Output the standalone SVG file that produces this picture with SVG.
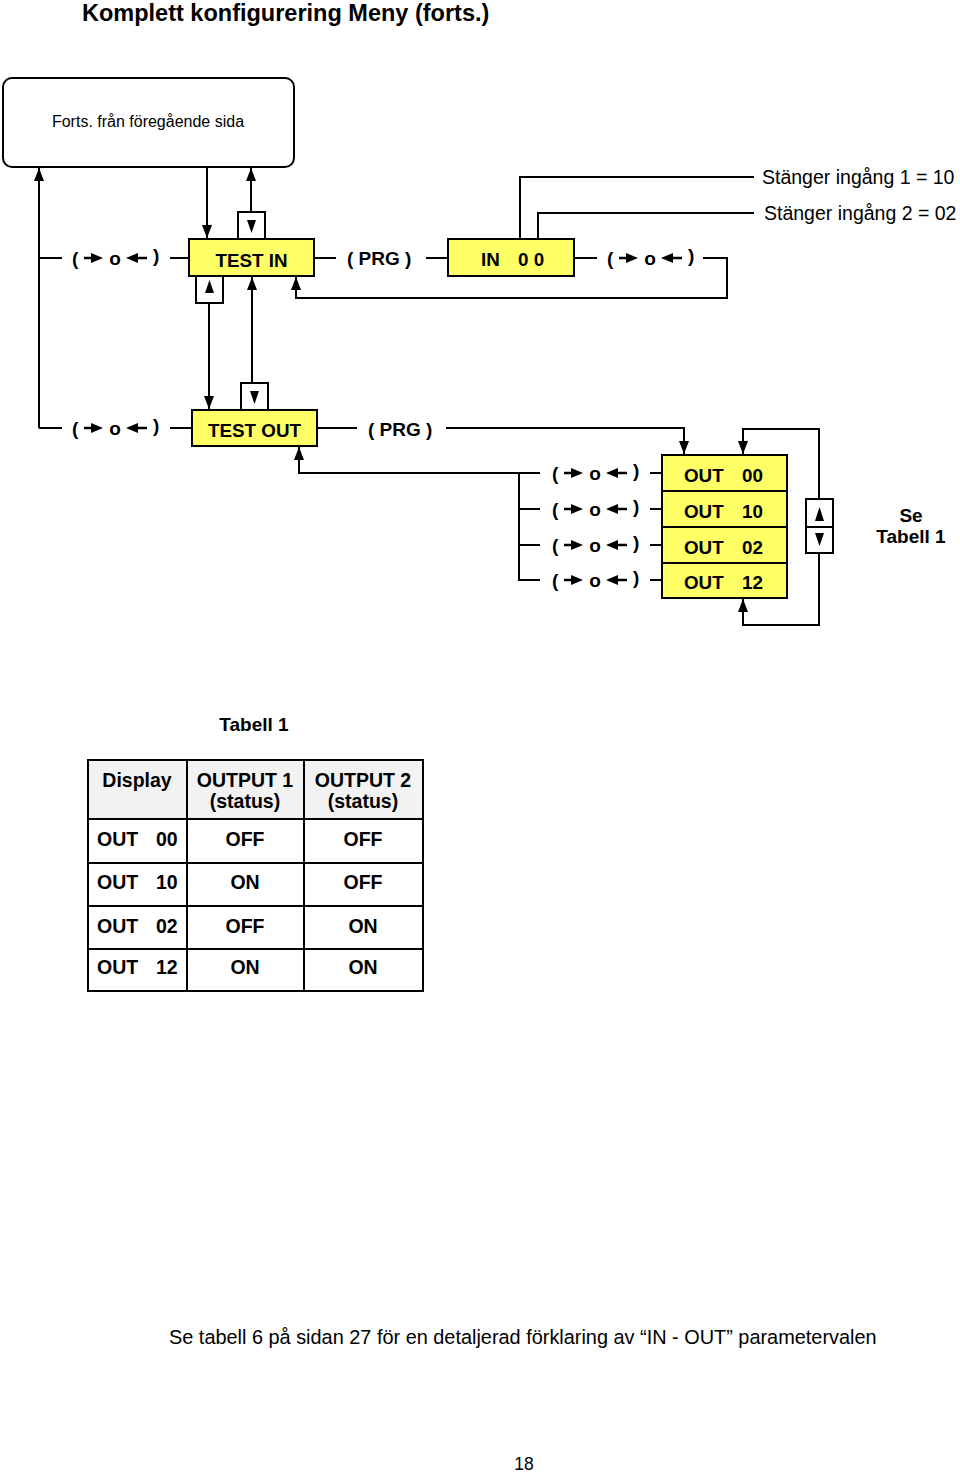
<svg xmlns="http://www.w3.org/2000/svg" xmlns:xlink="http://www.w3.org/1999/xlink" width="960" height="1476" viewBox="0 0 960 1476">
<style>
  .t { font-family: "Liberation Sans", Arial, sans-serif; fill: #000; }
  .b { font-weight: bold; }
  .box { fill: #FFFF66; stroke: #000; stroke-width: 2; }
  .sq { fill: #fff; stroke: #000; stroke-width: 2; }
  .ln { fill: none; stroke: #000; stroke-width: 2; }
  .cell { fill: #fff; stroke: #000; stroke-width: 2; }
  .hdr { fill: #F2F2F2; stroke: #000; stroke-width: 2; }
</style>
<defs>
  <marker id="ah" markerUnits="userSpaceOnUse" markerWidth="14" markerHeight="10" refX="13" refY="5" orient="auto">
    <path d="M0,0 L13,5 L0,10 z" fill="#000"/>
  </marker>
  <g id="sw">
    <text class="t b" x="0" y="7" font-size="19">(</text>
    <line x1="12" y1="0" x2="21" y2="0" stroke="#000" stroke-width="2.5"/>
    <polygon points="19,-5 31,0 19,5" fill="#000"/>
    <text class="t b" x="43" y="7" font-size="19" text-anchor="middle">o</text>
    <polygon points="54,0 66,-5 66,5" fill="#000"/>
    <line x1="64" y1="0" x2="75" y2="0" stroke="#000" stroke-width="2.5"/>
    <text class="t b" x="81" y="4" font-size="19">)</text>
  </g>
</defs>
<rect width="960" height="1476" fill="#fff"/>

<text id="title" class="t b" x="82" y="21" font-size="23.5">Komplett konfigurering Meny (forts.)</text>

<g id="connectors">
  <path class="ln" d="M39,428 V168" marker-end="url(#ah)"/>
  <path class="ln" d="M39,258 H62"/>
  <path class="ln" d="M39,428 H62"/>
  <path class="ln" d="M170,258 H189"/>
  <path class="ln" d="M315,258 H336"/>
  <path class="ln" d="M426,258 H448"/>
  <path class="ln" d="M575,258 H597"/>
  <path class="ln" d="M703,258 H727 V298 H296 V277" marker-end="url(#ah)"/>
  <path class="ln" d="M207,168 V238" marker-end="url(#ah)"/>
  <path class="ln" d="M251,212 V168" marker-end="url(#ah)"/>
  <path class="ln" d="M209,303 V409" marker-end="url(#ah)"/>
  <path class="ln" d="M252,383 V277" marker-end="url(#ah)"/>
  <path class="ln" d="M520,239 V177 H754"/>
  <path class="ln" d="M538,239 V213 H754"/>
  <path class="ln" d="M170,428 H192"/>
  <path class="ln" d="M317,428 H357"/>
  <path class="ln" d="M446,428 H684 V454" marker-end="url(#ah)"/>
  <path class="ln" d="M540,473 H299 V447" marker-end="url(#ah)"/>
  <path class="ln" d="M519,473 V580 H540"/>
  <path class="ln" d="M519,509 H540"/>
  <path class="ln" d="M519,545 H540"/>
  <path class="ln" d="M650,473 H662"/>
  <path class="ln" d="M650,509 H662"/>
  <path class="ln" d="M650,545 H662"/>
  <path class="ln" d="M650,580 H662"/>
  <path class="ln" d="M819,499 V429 H743 V454" marker-end="url(#ah)"/>
  <path class="ln" d="M819,553 V625 H743 V599" marker-end="url(#ah)"/>
</g>

<g id="forts">
  <rect x="3" y="78" width="291" height="89" rx="9" fill="#fff" stroke="#000" stroke-width="2"/>
  <text class="t" x="148" y="127" font-size="16" text-anchor="middle">Forts. från föregående sida</text>
</g>

<g id="sw1"><use xlink:href="#sw" x="72" y="258"/></g>
<g id="test_in">
  <rect class="box" x="189" y="239" width="125" height="37"/>
  <text class="t b" x="251.5" y="267" font-size="18.8" text-anchor="middle">TEST IN</text>
</g>
<g id="up_in_top">
  <rect class="sq" x="238" y="212" width="27" height="27"/>
  <polygon points="247,220 256,220 251.5,233" fill="#000"/>
</g>
<g id="up_in_bottom">
  <rect class="sq" x="196" y="276" width="27" height="27"/>
  <polygon points="205,293 214,293 209.5,280" fill="#000"/>
</g>
<g id="prg1"><text class="t b" x="347" y="265" font-size="19">( PRG )</text></g>
<g id="in00">
  <rect class="box" x="448" y="239" width="126" height="37"/>
  <text class="t b" x="481" y="266" font-size="18.8">IN<tspan x="518">0 0</tspan></text>
</g>
<g id="sw2"><use xlink:href="#sw" x="607" y="258"/></g>
<g id="stanger">
  <text class="t" x="762" y="184" font-size="19.5">Stänger ingång 1 = 10</text>
  <text class="t" x="764" y="220" font-size="19.5">Stänger ingång 2 = 02</text>
</g>

<g id="sw3"><use xlink:href="#sw" x="72" y="428"/></g>
<g id="test_out">
  <rect class="box" x="192" y="410" width="125" height="36"/>
  <text class="t b" x="254.5" y="437" font-size="18.8" text-anchor="middle">TEST OUT</text>
</g>
<g id="down_out_top">
  <rect class="sq" x="241" y="383" width="27" height="27"/>
  <polygon points="250,391 259,391 254.5,404" fill="#000"/>
</g>
<g id="prg2"><text class="t b" x="368" y="436" font-size="19">( PRG )</text></g>

<g id="sw_out">
  <use xlink:href="#sw" x="552" y="473"/>
  <use xlink:href="#sw" x="552" y="509"/>
  <use xlink:href="#sw" x="552" y="545"/>
  <use xlink:href="#sw" x="552" y="580"/>
</g>
<g id="out_list">
  <rect class="box" x="662" y="455" width="125" height="36"/>
  <rect class="box" x="662" y="491" width="125" height="36"/>
  <rect class="box" x="662" y="527" width="125" height="36"/>
  <rect class="box" x="662" y="563" width="125" height="35"/>
  <text class="t b" x="684" y="482" font-size="18.8">OUT<tspan x="742">00</tspan></text>
  <text class="t b" x="684" y="518" font-size="18.8">OUT<tspan x="742">10</tspan></text>
  <text class="t b" x="684" y="554" font-size="18.8">OUT<tspan x="742">02</tspan></text>
  <text class="t b" x="684" y="589" font-size="18.8">OUT<tspan x="742">12</tspan></text>
</g>
<g id="updown">
  <rect class="sq" x="806" y="499" width="27" height="54"/>
  <line x1="806" y1="527" x2="833" y2="527" stroke="#000" stroke-width="2"/>
  <polygon points="815,521 824,521 819.5,507" fill="#000"/>
  <polygon points="815,533 824,533 819.5,546" fill="#000"/>
</g>
<g id="se_tabell">
  <text class="t b" x="911" y="522" font-size="19" text-anchor="middle">Se</text>
  <text class="t b" x="911" y="543" font-size="19" text-anchor="middle">Tabell 1</text>
</g>

<g id="tabell1">
  <text class="t b" x="254" y="731" font-size="19" text-anchor="middle">Tabell 1</text>
  <rect class="hdr" x="88" y="760" width="99" height="59"/>
  <rect class="hdr" x="187" y="760" width="117" height="59"/>
  <rect class="hdr" x="304" y="760" width="119" height="59"/>
  <rect class="cell" x="88" y="819" width="99" height="44"/>
  <rect class="cell" x="187" y="819" width="117" height="44"/>
  <rect class="cell" x="304" y="819" width="119" height="44"/>
  <rect class="cell" x="88" y="863" width="99" height="43"/>
  <rect class="cell" x="187" y="863" width="117" height="43"/>
  <rect class="cell" x="304" y="863" width="119" height="43"/>
  <rect class="cell" x="88" y="906" width="99" height="43"/>
  <rect class="cell" x="187" y="906" width="117" height="43"/>
  <rect class="cell" x="304" y="906" width="119" height="43"/>
  <rect class="cell" x="88" y="949" width="99" height="42"/>
  <rect class="cell" x="187" y="949" width="117" height="42"/>
  <rect class="cell" x="304" y="949" width="119" height="42"/>
  <g class="t b" font-size="19.5">
    <text x="137" y="787" text-anchor="middle">Display</text>
    <text x="245" y="787" text-anchor="middle">OUTPUT 1</text>
    <text x="245" y="808" text-anchor="middle">(status)</text>
    <text x="363" y="787" text-anchor="middle">OUTPUT 2</text>
    <text x="363" y="808" text-anchor="middle">(status)</text>
    <text x="97" y="846">OUT<tspan x="156">00</tspan></text>
    <text x="97" y="889">OUT<tspan x="156">10</tspan></text>
    <text x="97" y="933">OUT<tspan x="156">02</tspan></text>
    <text x="97" y="974">OUT<tspan x="156">12</tspan></text>
    <text x="245" y="846" text-anchor="middle">OFF</text>
    <text x="363" y="846" text-anchor="middle">OFF</text>
    <text x="245" y="889" text-anchor="middle">ON</text>
    <text x="363" y="889" text-anchor="middle">OFF</text>
    <text x="245" y="933" text-anchor="middle">OFF</text>
    <text x="363" y="933" text-anchor="middle">ON</text>
    <text x="245" y="974" text-anchor="middle">ON</text>
    <text x="363" y="974" text-anchor="middle">ON</text>
  </g>
</g>

<text id="footnote" class="t" x="169" y="1344" font-size="19.9">Se tabell 6 på sidan 27 för en detaljerad förklaring av “IN - OUT” parametervalen</text>
<text id="pagenum" class="t" x="524" y="1470" font-size="17.5" text-anchor="middle">18</text>
</svg>
